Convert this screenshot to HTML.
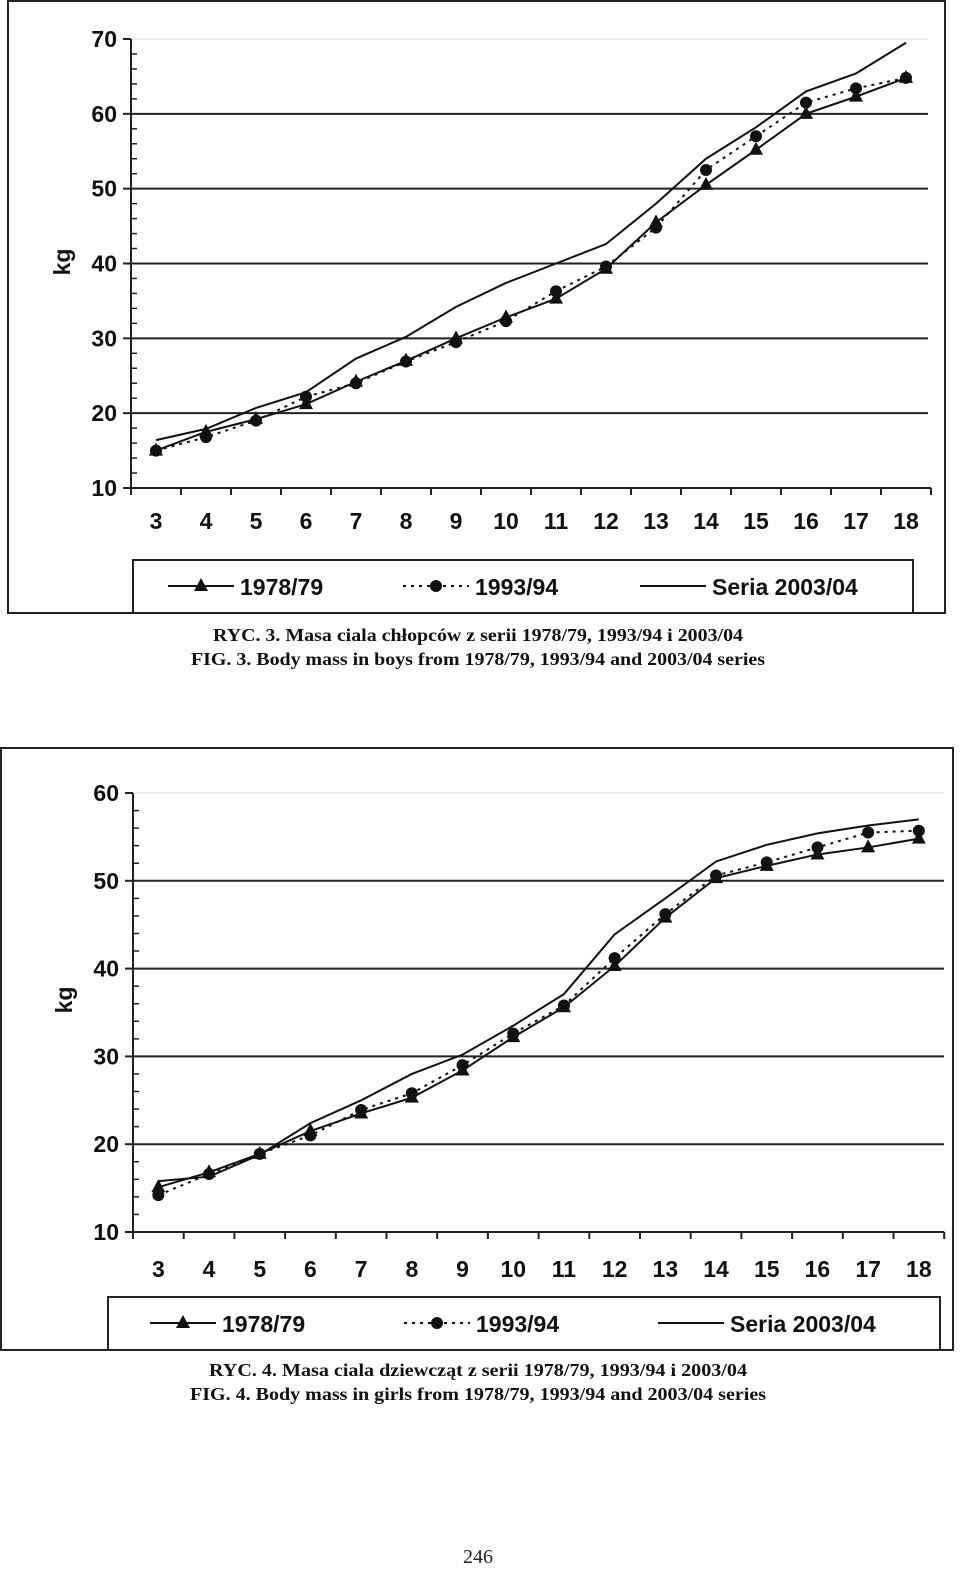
<!DOCTYPE html>
<html><head><meta charset="utf-8">
<style>
html,body{margin:0;padding:0;background:#fff;}
svg{display:block;}
.ax{font-family:"Liberation Sans",Arial,sans-serif;font-weight:bold;font-size:23px;fill:#111;}
.cap{font-family:"Liberation Serif",serif;font-weight:bold;font-size:18px;fill:#111;}
</style></head>
<body>
<svg id="pg" width="960" height="1577" viewBox="0 0 960 1577" xmlns="http://www.w3.org/2000/svg">
<rect x="8" y="1" width="937" height="612" fill="none" stroke="#222" stroke-width="2"/>
<rect x="133" y="560" width="780" height="53" fill="none" stroke="#222" stroke-width="2"/>
<rect x="1" y="748" width="952" height="602" fill="none" stroke="#222" stroke-width="2"/>
<rect x="108" y="1297" width="832" height="53" fill="none" stroke="#222" stroke-width="2"/>
<text class="cap" x="478" y="641" text-anchor="middle" textLength="530" lengthAdjust="spacingAndGlyphs">RYC. 3. Masa ciala chłopców z serii 1978/79, 1993/94 i 2003/04</text>
<text class="cap" x="478" y="665" text-anchor="middle" textLength="574" lengthAdjust="spacingAndGlyphs">FIG. 3. Body mass in boys from 1978/79, 1993/94 and 2003/04 series</text>
<text class="cap" x="478" y="1376" text-anchor="middle" textLength="538" lengthAdjust="spacingAndGlyphs">RYC. 4. Masa ciala dziewcząt z serii 1978/79, 1993/94 i 2003/04</text>
<text class="cap" x="478" y="1400" text-anchor="middle" textLength="576" lengthAdjust="spacingAndGlyphs">FIG. 4. Body mass in girls from 1978/79, 1993/94 and 2003/04 series</text>
<text x="478" y="1563" text-anchor="middle" style="font-family:'Liberation Serif',serif;font-size:20px" fill="#222">246</text>
</svg>
<script>
const ages = ["3","4","5","6","7","8","9","10","11","12","13","14","15","16","17","18"];
const boys7879 = [15,17.5,19.2,21.2,24.2,27,30,32.8,35.3,39.3,45.5,50.5,55.2,60,62.3,64.8];
const boys9394 = [15,16.8,19,22.2,24,26.9,29.5,32.3,36.3,39.6,44.8,52.5,57,61.5,63.4,64.8];
const boys0304 = [16.4,17.9,20.7,22.8,27.3,30.2,34.2,37.4,40,42.6,48,54,58.2,63,65.4,69.5];
const boysTicks = [10,20,30,40,50,60,70];
const girls7879 = [15.1,16.8,18.9,21.5,23.5,25.3,28.4,32.2,35.6,40.3,45.8,50.3,51.7,53,53.8,54.8];
const girls9394 = [14.2,16.6,18.9,21,23.9,25.8,29,32.6,35.8,41.2,46.2,50.6,52.1,53.8,55.5,55.7];
const girls0304 = [15.8,16.3,18.8,22.4,25,28,30.2,33.5,37.1,43.9,48,52.2,54.1,55.4,56.3,57];
const girlsTicks = [10,20,30,40,50,60];
const legendLabels = ["1978/79","1993/94","Seria 2003/04"];

const NS="http://www.w3.org/2000/svg";
const svg=document.getElementById('pg');
function mk(tag,attrs,parent){const e=document.createElementNS(NS,tag);for(const k in attrs)e.setAttribute(k,attrs[k]);(parent||svg).appendChild(e);return e;}

function chart(cfg){
  const g=mk('g',{});
  
  
  const ticks=cfg.ticks, ymin=ticks[0], ymax=ticks[ticks.length-1];
  const Y=v=>cfg.y0-(v-ymin)/(ymax-ymin)*(cfg.y0-cfg.y1);
  const X=i=>cfg.x0+(i+0.5)*cfg.step;
  const xEnd=cfg.x0+ages.length*cfg.step;
  ticks.forEach((t,k)=>{
    if(k>0){const gl=mk('line',{x1:cfg.x0,x2:cfg.gridEnd,y1:Y(t),y2:Y(t),stroke:k===ticks.length-1?'#ddd':'#222','stroke-width':k===ticks.length-1?1:2},g);
      
      }
    const tl=mk('text',{x:cfg.x0-14,y:Y(t)+8,'text-anchor':'end',class:'ax'},g);tl.textContent=t;
    
    
    mk('line',{x1:cfg.x0-8,x2:cfg.x0,y1:Y(t),y2:Y(t),stroke:'#222','stroke-width':2},g);
    if(k<ticks.length-1){for(let m=1;m<5;m++){const v=t+(ticks[k+1]-t)*m/5;mk('line',{x1:cfg.x0,x2:cfg.x0+6,y1:Y(v),y2:Y(v),stroke:'#222','stroke-width':1.5},g);}}
  });
  const ya=mk('line',{x1:cfg.x0,x2:cfg.x0,y1:cfg.y1,y2:cfg.y0,stroke:'#222','stroke-width':2},g);
  
  
  const xa=mk('line',{x1:cfg.x0,x2:xEnd,y1:cfg.y0,y2:cfg.y0,stroke:'#222','stroke-width':2},g);
  
  
  for(let i=0;i<=ages.length;i++)mk('line',{x1:cfg.x0+i*cfg.step,x2:cfg.x0+i*cfg.step,y1:cfg.y0,y2:cfg.y0+7,stroke:'#222','stroke-width':2},g);
  ages.forEach((a,i)=>{const t=mk('text',{x:X(i),y:cfg.y0+cfg.xlabOff,'text-anchor':'middle',class:'ax'},g);t.textContent=a;
    
    });
  const yt=mk('text',{x:0,y:0,class:'ax',transform:`translate(${cfg.ytx},${cfg.yty}) rotate(-90)`,'text-anchor':'middle','font-size':'26'},g);yt.textContent='kg';
  
  
  const pts=arr=>arr.map((v,i)=>X(i)+','+Y(v)).join(' ');
  const l3=mk('polyline',{points:pts(cfg.s3),fill:'none',stroke:'#111','stroke-width':2},g);
  
  
  const l2=mk('polyline',{points:pts(cfg.s2),fill:'none',stroke:'#111','stroke-width':2,'stroke-dasharray':'3,5'},g);
  
  
  const l1=mk('polyline',{points:pts(cfg.s1),fill:'none',stroke:'#111','stroke-width':2},g);
  
  
  cfg.s1.forEach((v,i)=>{const x=X(i),y=Y(v);const p=mk('polygon',{points:`${x},${y-8} ${x-7},${y+5} ${x+7},${y+5}`,fill:'#111'},g);
    
    });
  cfg.s2.forEach((v,i)=>{const c=mk('circle',{cx:X(i),cy:Y(v),r:6,fill:'#111'},g);
    
    });
  const L=cfg.leg, ly=L.y;
  mk('line',{x1:L.x[0],x2:L.x[0]+66,y1:ly,y2:ly,stroke:'#111','stroke-width':2},g);
  mk('polygon',{points:`${L.x[0]+33},${ly-8} ${L.x[0]+26},${ly+5} ${L.x[0]+40},${ly+5}`,fill:'#111'},g);
  mk('line',{x1:L.x[1],x2:L.x[1]+66,y1:ly,y2:ly,stroke:'#111','stroke-width':2,'stroke-dasharray':'3,5'},g);
  mk('circle',{cx:L.x[1]+33,cy:ly,r:6,fill:'#111'},g);
  mk('line',{x1:L.x[2],x2:L.x[2]+66,y1:ly,y2:ly,stroke:'#111','stroke-width':2},g);
  legendLabels.forEach((s,i)=>{const t=mk('text',{x:L.x[i]+72,y:ly+9,class:'ax','font-size':'25'},g);t.textContent=s;
    
    });
}
chart({name:'boys-chart',x0:131,step:50,y0:488,y1:39,gridEnd:928,ticks:boysTicks,s1:boys7879,s2:boys9394,s3:boys0304,xlabOff:41,ytx:70,yty:262,leg:{y:586,x:[168,403,640]}});
chart({name:'girls-chart',x0:133,step:50.7,y0:1232,y1:793,gridEnd:944,ticks:girlsTicks,s1:girls7879,s2:girls9394,s3:girls0304,xlabOff:45,ytx:72,yty:1000,leg:{y:1323,x:[150,404,658]}});
</script>
</body></html>
